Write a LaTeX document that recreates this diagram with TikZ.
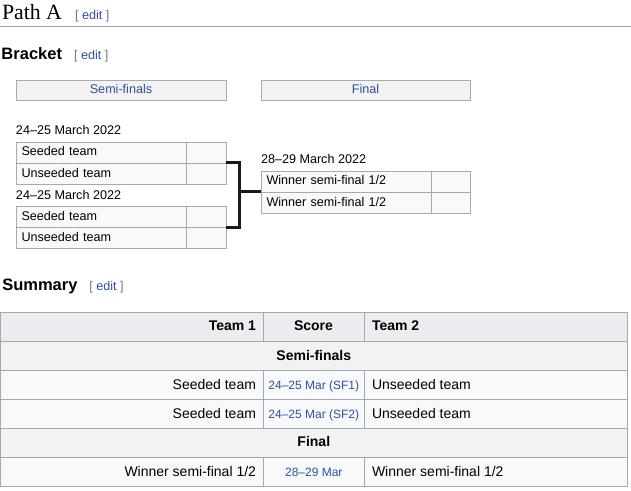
\documentclass[tikz,border=0pt]{standalone}
\usepackage{fontspec}
\setmainfont{Liberation Sans}
\newfontfamily\titleserif{Liberation Serif}
\usetikzlibrary{positioning}
\definecolor{linkblue}{HTML}{2E4FA3}
\definecolor{editgray}{HTML}{72777D}
\definecolor{cellgray}{HTML}{AAAAAA}
\definecolor{cellfill}{HTML}{F9F9F9}
\definecolor{headfill}{HTML}{F2F2F2}
\definecolor{tabline}{HTML}{A2A9B1}
\definecolor{tabhead}{HTML}{EAECF0}
\definecolor{tabsect}{HTML}{F2F2F2}
\definecolor{tabrow}{HTML}{F8F9FA}
\newcommand\bracketfont{\fontsize{12.6}{15}\selectfont}
\newcommand\tablefont{\fontsize{14}{17}\selectfont}
\newcommand\scorefont{\fontsize{12}{14}\selectfont}
\newcommand\headingfont{\fontsize{16.5}{20}\selectfont\bfseries}
\newcommand\editlink{{\color{editgray}[} {\color{linkblue}edit} {\color{editgray}]}}
\begin{document}
\begin{tikzpicture}[x=1pt,y=-1pt,
  txt/.style={inner sep=0pt,outer sep=0pt,anchor=base west},
  cell/.style={draw=cellgray,fill=cellfill,anchor=north west,inner sep=0pt,outer sep=0pt,
    minimum height=21.2,font=\bracketfont,text height=9.2,text depth=2},
  team/.style={cell,text width=158.7,inner xsep=5.5,align=left},
  score/.style={cell,minimum width=40},
  roundhead/.style={cell,fill=headfill,text=linkblue,minimum height=20},
  date/.style={txt,font=\bracketfont},
  joint/.style={line width=3pt,black!90}]
\useasboundingbox (0,0) rectangle (631,490);
\node[txt,font=\titleserif\fontsize{21.8}{26}\selectfont] (path) at (2,19.3) {Path A};
\node[txt,font=\bracketfont] (edit1) at (75,19) {\editlink};
\draw[tabline] (0,26) -- (631,26);
\node[txt,font=\headingfont] (bracket) at (1.5,59) {Bracket};
\node[txt,font=\bracketfont] (edit2) at (74,59) {\editlink};
\node[roundhead,minimum width=210] (hsf) at (16,80) {Semi-finals};
\node[roundhead,minimum width=209] (hfin) at (261,80) {Final};
\foreach \m/\y in {1/141.7,2/206}{
  \node[team] (t\m-a) at (16,\y) {Seeded team};
  \node[score,right=0pt of t\m-a] (p\m-a) {};
  \node[team,below=0pt of t\m-a] (t\m-b) {Unseeded team};
  \node[score,right=0pt of t\m-b] (p\m-b) {};
  \node[date] (d\m) at ([yshift=6.8]t\m-a.north west) {24–25 March 2022};
}
\node[team] (f-a) at (261,170.7) {Winner semi-final 1/2};
\node[score,minimum width=39.3,right=0pt of f-a] (pf-a) {};
\node[team,below=0pt of f-a] (f-b) {Winner semi-final 1/2};
\node[score,minimum width=39.3,right=0pt of f-b] (pf-b) {};
\node[date] (d3) at ([yshift=7.4]f-a.north west) {28–29 March 2022};
\coordinate (jn) at ([xshift=-22]f-a.south west);
\draw[joint] (p1-a.south east) -| (jn) |- (p2-a.south east);
\draw[joint] (jn) -- (f-a.south west);
\node[txt,font=\headingfont] (summary) at (2.3,290) {Summary};
\node[txt,font=\bracketfont] (edit3) at (89.3,290) {\editlink};
\foreach \ya/\yb/\c in {312.3/341.3/tabhead,341.3/370.3/tabsect,370.3/399.3/tabrow,
  399.3/428.3/tabrow,428.3/457.3/tabsect,457.3/486/tabrow}
  \draw[tabline,fill=\c] (0.5,\ya) rectangle (627,\yb);
\foreach \ya/\yb in {312.3/341.3,370.3/428.3,457.3/486}
  \draw[tabline] (262.7,\ya) -- (262.7,\yb) (364.3,\ya) -- (364.3,\yb);
\node[txt,anchor=base east,font=\tablefont\bfseries] (h1) at (256,330.7) {Team 1};
\node[txt,anchor=base,font=\tablefont\bfseries] (h2) at (313.5,330.7) {Score};
\node[txt,font=\tablefont\bfseries] (h3) at (372,330.7) {Team 2};
\node[txt,anchor=base,font=\tablefont\bfseries] (sec1) at (313.8,360) {Semi-finals};
\node[txt,anchor=base,font=\tablefont\bfseries] (sec2) at (313.8,446.7) {Final};
\foreach \n/\y/\s in {1/389.3/24–25 Mar (SF1),2/418.3/24–25 Mar (SF2)}{
  \node[txt,anchor=base east,font=\tablefont] (r\n-a) at (256,\y) {Seeded team};
  \node[txt,anchor=base,font=\scorefont,text=linkblue] (r\n-s) at (313.8,\y) {\s};
  \node[txt,font=\tablefont] (r\n-b) at (372,\y) {Unseeded team};
}
\node[txt,anchor=base east,font=\tablefont] (r3-a) at (256,476) {Winner semi-final 1/2};
\node[txt,anchor=base,font=\scorefont,text=linkblue] (r3-s) at (313.8,476) {28–29 Mar};
\node[txt,font=\tablefont] (r3-b) at (372,476) {Winner semi-final 1/2};
\end{tikzpicture}
\end{document}
